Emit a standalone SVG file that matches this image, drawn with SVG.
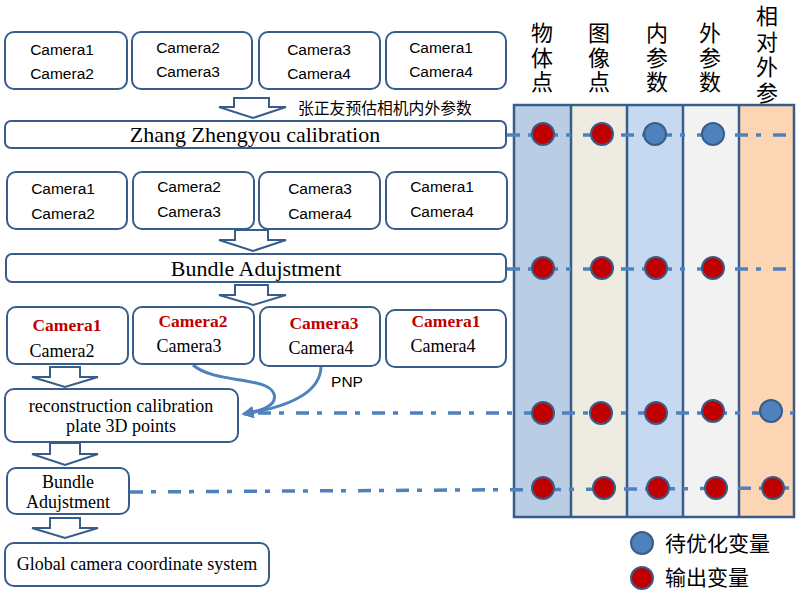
<svg xmlns="http://www.w3.org/2000/svg" width="802" height="597" viewBox="0 0 802 597">
<defs>
<style>
.box{fill:#fff;stroke:#385d8a;stroke-width:2}
.harrow{fill:#fff;stroke:#385d8a;stroke-width:2;stroke-linejoin:miter}
.sans{font-family:"Liberation Sans",Arial,sans-serif;font-size:15.5px;fill:#000;text-anchor:middle}
.serif{font-family:"Liberation Serif","Times New Roman",serif;fill:#000;text-anchor:middle}
.red{fill:#c00000;font-weight:bold}
.cjk{font-family:"Noto Sans CJK SC",sans-serif;fill:#000}
.hdr{font-family:"Noto Sans CJK SC",sans-serif;font-size:22px;fill:#000;writing-mode:vertical-rl;letter-spacing:2.5px}
.dd{stroke:#4f81bd;stroke-width:3.5;fill:none;stroke-dasharray:13 8 5 12}
.col{stroke:#385d8a;stroke-width:2.5}
.rdot{fill:#c00000;stroke:#385d8a;stroke-width:2}
.bdot{fill:#4f81bd;stroke:#385d8a;stroke-width:2}
.curve{fill:none;stroke:#4f81bd;stroke-width:3}
</style>
<marker id="ah" viewBox="0 0 10 10" refX="8" refY="5" markerWidth="4" markerHeight="4" orient="auto" markerUnits="strokeWidth">
<path d="M0,0 L10,5 L0,10 z" fill="#4f81bd"/>
</marker>
</defs>

<!-- table -->
<g id="table">
<rect x="514" y="105" width="57" height="412" fill="#b9cde5"/>
<rect x="571" y="105" width="56" height="412" fill="#eeece1"/>
<rect x="627" y="105" width="56" height="412" fill="#c6d9f1"/>
<rect x="683" y="105" width="56" height="412" fill="#f2f2f2"/>
<rect x="739" y="105" width="55" height="412" fill="#fcd5b5"/>
<rect x="514" y="105" width="280" height="412" fill="none" class="col"/>
<line class="col" x1="571" y1="105" x2="571" y2="517"/>
<line class="col" x1="627" y1="105" x2="627" y2="517"/>
<line class="col" x1="683" y1="105" x2="683" y2="517"/>
<line class="col" x1="739" y1="105" x2="739" y2="517"/>
</g>

<g id="headers">
<text class="hdr" x="542" y="22">物体点</text>
<text class="hdr" x="599" y="22">图像点</text>
<text class="hdr" x="657" y="22">内参数</text>
<text class="hdr" x="710" y="22">外参数</text>
<text class="hdr" x="767" y="5" style="letter-spacing:3.5px">相对外参</text>
</g>

<!-- connectors -->
<g id="connectors">
<line class="dd" x1="507" y1="135" x2="794" y2="135"/>
<line class="dd" x1="507" y1="269" x2="794" y2="269"/>
<line class="dd" x1="258" y1="413" x2="794" y2="413"/>
<line class="dd" x1="130" y1="492" x2="794" y2="488"/>
<path class="curve" d="M193,365 C215,384 268,376 274,394 C278,407 258,411 244,414" marker-end="url(#ah)"/>
<path class="curve" d="M321,367 C320,396 282,408 244,414" marker-end="url(#ah)"/>
<text class="sans" x="347" y="387" font-size="15px">PNP</text>
</g>

<!-- dots -->
<g id="dots">
<circle class="rdot" cx="543" cy="134" r="11"/>
<circle class="rdot" cx="602" cy="134" r="11"/>
<circle class="bdot" cx="655" cy="134" r="11"/>
<circle class="bdot" cx="713" cy="134" r="11"/>
<circle class="rdot" cx="543" cy="268" r="11"/>
<circle class="rdot" cx="602" cy="268" r="11"/>
<circle class="rdot" cx="656" cy="268" r="11"/>
<circle class="rdot" cx="713" cy="268" r="11"/>
<circle class="rdot" cx="543" cy="413" r="11"/>
<circle class="rdot" cx="601" cy="413" r="11"/>
<circle class="rdot" cx="656" cy="413" r="11"/>
<circle class="rdot" cx="713" cy="411" r="11"/>
<circle class="bdot" cx="771" cy="411" r="11"/>
<circle class="rdot" cx="543" cy="488" r="11"/>
<circle class="rdot" cx="604" cy="488" r="11"/>
<circle class="rdot" cx="658" cy="488" r="11"/>
<circle class="rdot" cx="716" cy="488" r="11"/>
<circle class="rdot" cx="773" cy="488" r="11"/>
</g>

<g id="legend">
<circle class="bdot" cx="642" cy="543" r="11"/>
<circle class="rdot" cx="642" cy="578" r="11"/>
<text class="cjk" x="665" y="551" font-size="21px" fill="#333">待优化变量</text>
<text class="cjk" x="665" y="585" font-size="21px" fill="#333">输出变量</text>
</g>

<!-- row 1 -->
<g id="r1c12">
<rect class="box" x="5" y="32" width="122" height="57" rx="9"/>
<text class="sans" x="62" y="55">Camera1</text>
<text class="sans" x="62" y="79">Camera2</text>
</g>
<g id="r1c23">
<rect class="box" x="132" y="32" width="120" height="57" rx="9"/>
<text class="sans" x="188" y="53">Camera2</text>
<text class="sans" x="188" y="77">Camera3</text>
</g>
<g id="r1c34">
<rect class="box" x="259" y="32" width="121" height="57" rx="9"/>
<text class="sans" x="319" y="55">Camera3</text>
<text class="sans" x="319" y="79">Camera4</text>
</g>
<g id="r1c14">
<rect class="box" x="386" y="32" width="120" height="57" rx="9"/>
<text class="sans" x="441" y="53">Camera1</text>
<text class="sans" x="441" y="77">Camera4</text>
</g>

<g id="arrow1">
<path class="harrow" d="M234,98 H269 V107 H286 L253,118 L219,107 H234 Z"/>
<text class="cjk" x="298" y="114" font-size="15.8px">张正友预估相机内外参数</text>
</g>

<g id="zhang">
<rect class="box" x="5" y="121" width="501" height="27" rx="6"/>
<text class="serif" x="255" y="142" font-size="22px">Zhang Zhengyou calibration</text>
</g>

<!-- row 2 -->
<g id="r2c12">
<rect class="box" x="7" y="172" width="120" height="57" rx="9"/>
<text class="sans" x="63" y="194">Camera1</text>
<text class="sans" x="63" y="219">Camera2</text>
</g>
<g id="r2c23">
<rect class="box" x="133" y="172" width="121" height="57" rx="9"/>
<text class="sans" x="189" y="192">Camera2</text>
<text class="sans" x="189" y="217">Camera3</text>
</g>
<g id="r2c34">
<rect class="box" x="259" y="172" width="121" height="57" rx="9"/>
<text class="sans" x="320" y="194">Camera3</text>
<text class="sans" x="320" y="219">Camera4</text>
</g>
<g id="r2c14">
<rect class="box" x="386" y="172" width="121" height="57" rx="9"/>
<text class="sans" x="442" y="192">Camera1</text>
<text class="sans" x="442" y="217">Camera4</text>
</g>

<g id="arrow2">
<path class="harrow" d="M235,230 H268 V240 H286 L253,251 L219,240 H235 Z"/>
</g>

<g id="ba1">
<rect class="box" x="6" y="254" width="500" height="28" rx="6"/>
<text class="serif" x="256" y="276" font-size="22px">Bundle Adujstment</text>
</g>

<g id="arrow3">
<path class="harrow" d="M235,285 H268 V295 H286 L253,305 L219,295 H235 Z"/>
</g>

<!-- row 3 -->
<g id="r3c12">
<rect class="box" x="7" y="307" width="121" height="57" rx="9"/>
<text class="serif red" x="67" y="331" font-size="17.5px">Camera1</text>
<text class="serif" x="62" y="357" font-size="18px">Camera2</text>
</g>
<g id="r3c23">
<rect class="box" x="133" y="307" width="121" height="57" rx="9"/>
<text class="serif red" x="193" y="327" font-size="17.5px">Camera2</text>
<text class="serif" x="189" y="352" font-size="18px">Camera3</text>
</g>
<g id="r3c34">
<rect class="box" x="260" y="307" width="120" height="59" rx="9"/>
<text class="serif red" x="324" y="329" font-size="17.5px">Camera3</text>
<text class="serif" x="321" y="354" font-size="18px">Camera4</text>
</g>
<g id="r3c14">
<rect class="box" x="386" y="310" width="120" height="57" rx="9"/>
<text class="serif red" x="446" y="327" font-size="17.5px">Camera1</text>
<text class="serif" x="443" y="352" font-size="18px">Camera4</text>
</g>

<g id="arrow4">
<path class="harrow" d="M50,367 H80 V377 H98 L65,387 L32,377 H50 Z"/>
</g>

<g id="recon">
<rect class="box" x="5" y="389" width="233" height="53" rx="9"/>
<text class="serif" x="121" y="412" font-size="18px">reconstruction calibration</text>
<text class="serif" x="121" y="432" font-size="18px">plate 3D points</text>
</g>

<g id="arrow5">
<path class="harrow" d="M50,443 H80 V454 H98 L65,465 L32,454 H50 Z"/>
</g>

<g id="ba2">
<rect class="box" x="7" y="468" width="122" height="46" rx="9"/>
<text class="serif" x="68" y="488" font-size="18px">Bundle</text>
<text class="serif" x="68" y="508" font-size="18px">Adujstment</text>
</g>

<g id="arrow6">
<path class="harrow" d="M50,518 H80 V528 H98 L65,538 L32,528 H50 Z"/>
</g>

<g id="global">
<rect class="box" x="5" y="543" width="264" height="43" rx="9"/>
<text class="serif" x="137" y="570" font-size="18px">Global camera coordinate system</text>
</g>
</svg>
